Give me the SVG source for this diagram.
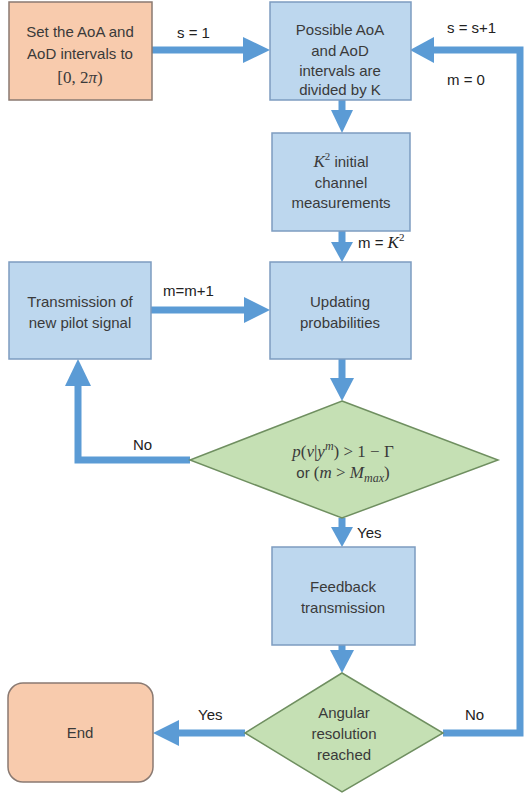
<svg xmlns="http://www.w3.org/2000/svg" width="531" height="796" viewBox="0 0 531 796">
<style>
.t{font-family:"Liberation Sans",Arial,sans-serif;font-size:15px;fill:#3a3a3a;text-anchor:middle}
.l{font-family:"Liberation Sans",Arial,sans-serif;font-size:15px;fill:#222}
.m{font-family:"Liberation Serif","Times New Roman",serif;font-style:italic;font-size:17px}
.n{font-family:"Liberation Serif","Times New Roman",serif;font-style:normal;font-size:17px}
.blue{fill:#BDD7EE;stroke:#7D9CC0;stroke-width:1.5}
.org{fill:#F8CBAD;stroke:#8A7A72;stroke-width:1.5}
.grn{fill:#C5E0B4;stroke:#6F8F60;stroke-width:1.5}
.sh{fill:none;stroke:#5B9BD5;stroke-width:7}
.hd{fill:#5B9BD5}
</style>
<rect width="531" height="796" fill="#fff"/>
<g id="connectors">
<path class="sh" d="M152 50H246"/><polygon class="hd" points="243,37 270,50 243,63"/>
<path class="sh" d="M443 733H520V50H432"/><polygon class="hd" points="434,37 410,50 434,63"/>
<path class="sh" d="M342 99V112"/><polygon class="hd" points="331,110 353,110 342,133"/>
<path class="sh" d="M342 231V245"/><polygon class="hd" points="331,242 353,242 342,262"/>
<path class="sh" d="M342 359V380"/><polygon class="hd" points="330,378 354,378 342,401"/>
<path class="sh" d="M342 518V530"/><polygon class="hd" points="331,527 353,527 342,547"/>
<path class="sh" d="M342 645V652"/><polygon class="hd" points="330,650 354,650 342,673"/>
<path class="sh" d="M190 460H78V384"/><polygon class="hd" points="65,386 78,359 91,386"/>
<path class="sh" d="M151 310H246"/><polygon class="hd" points="244,297 270,310 244,323"/>
<path class="sh" d="M245 733H176"/><polygon class="hd" points="179,720 153,733 179,746"/>
<text class="l" x="177" y="38">s = 1</text>
<text class="l" x="447" y="33">s = s+1</text>
<text class="l" x="447" y="85">m = 0</text>
<text class="l" x="358" y="248">m = <tspan class="m">K</tspan><tspan class="n" font-size="11" style="font-size:11px" dy="-7">2</tspan></text>
<text class="l" x="163" y="296">m=m+1</text>
<text class="l" x="133" y="450">No</text>
<text class="l" x="357" y="538">Yes</text>
<text class="l" x="198" y="720">Yes</text>
<text class="l" x="465" y="720">No</text>
</g>
<g id="n-set">
<rect class="org" x="9" y="2" width="143" height="98"/>
<text class="t" x="80" y="37">Set the AoA and</text>
<text class="t" x="80" y="59">AoD intervals to</text>
<text class="t" x="80" y="83"><tspan class="n">[0,  2</tspan><tspan class="m">π</tspan><tspan class="n">)</tspan></text>
</g>
<g id="n-divide">
<rect class="blue" x="270" y="2" width="141" height="98"/>
<text class="t" x="340" y="35">Possible AoA</text>
<text class="t" x="340" y="56">and AoD</text>
<text class="t" x="340" y="76">intervals are</text>
<text class="t" x="340" y="95">divided by K</text>
</g>
<g id="n-initial">
<rect class="blue" x="272" y="133" width="138" height="98"/>
<text class="t" x="341" y="167"><tspan class="m">K</tspan><tspan class="n" style="font-size:11px" dy="-7">2</tspan><tspan dy="7">  initial</tspan></text>
<text class="t" x="341" y="188">channel</text>
<text class="t" x="341" y="208">measurements</text>
</g>
<g id="n-transmission">
<rect class="blue" x="9" y="262" width="142" height="97"/>
<text class="t" x="80" y="307">Transmission of</text>
<text class="t" x="80" y="328">new pilot signal</text>
</g>
<g id="n-updating">
<rect class="blue" x="270" y="262" width="141" height="97"/>
<text class="t" x="340" y="307">Updating</text>
<text class="t" x="340" y="328">probabilities</text>
</g>
<g id="n-decision1">
<polygon class="grn" points="342,401 498,460 342,518 190,460"/>
<text class="t" x="343" y="457"><tspan class="m">p</tspan><tspan class="n">(</tspan><tspan class="m">v</tspan><tspan class="n">|</tspan><tspan class="m">y</tspan><tspan class="m" style="font-size:12px" dy="-7">m</tspan><tspan class="n" dy="7">) &gt; 1 − Γ</tspan></text>
<text class="t" x="343" y="478">or <tspan class="n">(</tspan><tspan class="m">m</tspan><tspan class="n"> &gt;  </tspan><tspan class="m">M</tspan><tspan class="m" style="font-size:12px" dy="4">max</tspan><tspan class="n" dy="-4">)</tspan></text>
</g>
<g id="n-feedback">
<rect class="blue" x="272" y="547" width="143" height="98"/>
<text class="t" x="343" y="592">Feedback</text>
<text class="t" x="343" y="613">transmission</text>
</g>
<g id="n-decision2">
<polygon class="grn" points="342,673 443,733 342,792 245,733"/>
<text class="t" x="344" y="718">Angular</text>
<text class="t" x="344" y="739">resolution</text>
<text class="t" x="344" y="760">reached</text>
</g>
<g id="n-end">
<rect class="org" x="8" y="683" width="145" height="99" rx="15"/>
<text class="t" x="80" y="738">End</text>
</g>
</svg>
